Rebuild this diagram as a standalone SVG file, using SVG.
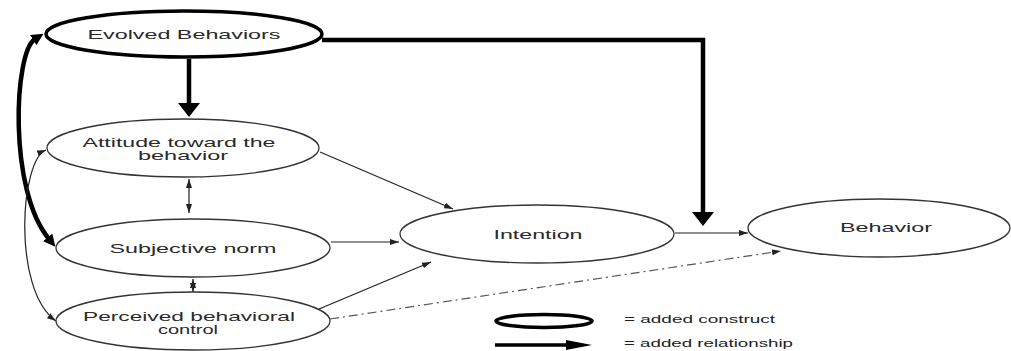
<svg xmlns="http://www.w3.org/2000/svg" width="1011" height="351" viewBox="0 0 1011 351">
<style>
.node{fill:#fff;stroke:#333;stroke-width:1.3}
.added{fill:#fff;stroke:#000;stroke-width:3.5}
.lbl{font-family:"Liberation Sans",Arial,sans-serif;font-size:13px;fill:#2a2a2a;text-anchor:middle}
.leg{font-family:"Liberation Sans",Arial,sans-serif;font-size:10px;fill:#222}
.thin{fill:none;stroke:#222;stroke-width:1.2}
.thick{fill:none;stroke:#000;stroke-width:4.5}
.dash{fill:none;stroke:#555;stroke-width:1.2;stroke-dasharray:9,4,2,4}
</style>
<defs>
<marker id="ah" markerUnits="userSpaceOnUse" markerWidth="9" markerHeight="6" refX="9" refY="3" orient="auto-start-reverse"><path d="M0,0 L9,3 L0,6 z" fill="#222"/></marker>
<marker id="ahT" markerUnits="userSpaceOnUse" markerWidth="14" markerHeight="22" refX="2" refY="11" orient="auto"><path d="M0,0 L14,11 L0,22 z" fill="#000"/></marker>
<marker id="ahC" markerUnits="userSpaceOnUse" markerWidth="12" markerHeight="12" refX="2" refY="6" orient="auto-start-reverse"><path d="M0,0 L12,6 L0,12 z" fill="#000"/></marker>
<marker id="ahL" markerUnits="userSpaceOnUse" markerWidth="26" markerHeight="10" refX="2" refY="5" orient="auto"><path d="M0,0 L26,5 L0,10 z" fill="#000"/></marker>
</defs>

<g id="connectors">
<line class="thick" x1="189" y1="59" x2="189" y2="105" marker-end="url(#ahT)"/>
<path class="thick" d="M322,40 H703 V214" stroke-width="4" marker-end="url(#ahT)"/>
<path class="thick" d="M35,39 C14,52 8,190 49,239" stroke-width="4.5" marker-start="url(#ahC)" marker-end="url(#ahC)"/>
<path class="thin" d="M46,150 C20,160 12,290 56,321" marker-start="url(#ah)" marker-end="url(#ah)"/>
<line class="thin" x1="189" y1="179" x2="189" y2="213" marker-start="url(#ah)" marker-end="url(#ah)"/>
<line class="thin" x1="193" y1="279" x2="193" y2="292" marker-start="url(#ah)" marker-end="url(#ah)"/>
<line class="thin" x1="320" y1="152" x2="453" y2="209" marker-end="url(#ah)"/>
<line class="thin" x1="331" y1="242" x2="399" y2="242" marker-end="url(#ah)"/>
<line class="thin" x1="319" y1="309" x2="431" y2="262" marker-end="url(#ah)"/>
<line class="thin" x1="675" y1="233" x2="748" y2="233" marker-end="url(#ah)"/>
<line class="dash" x1="330" y1="319" x2="781" y2="251" marker-end="url(#ah)"/>
</g>

<g id="evolved">
<ellipse class="added" cx="184" cy="34" rx="138" ry="23"/>
<text class="lbl" x="184" y="38.5" textLength="193" lengthAdjust="spacingAndGlyphs">Evolved Behaviors</text>
</g>
<g id="attitude">
<ellipse class="node" cx="183" cy="148" rx="136" ry="29"/>
<text class="lbl" x="179" y="146.5" textLength="193" lengthAdjust="spacingAndGlyphs">Attitude toward the</text>
<text class="lbl" x="183" y="159.5" textLength="90" lengthAdjust="spacingAndGlyphs">behavior</text>
</g>
<g id="subjective">
<ellipse class="node" cx="193" cy="248" rx="137" ry="29"/>
<text class="lbl" x="193" y="252.5" textLength="167" lengthAdjust="spacingAndGlyphs">Subjective norm</text>
</g>
<g id="perceived">
<ellipse class="node" cx="193" cy="321" rx="137" ry="29"/>
<text class="lbl" x="189" y="320.5" textLength="212" lengthAdjust="spacingAndGlyphs">Perceived behavioral</text>
<text class="lbl" x="188" y="333.5" textLength="60" lengthAdjust="spacingAndGlyphs">control</text>
</g>
<g id="intention">
<ellipse class="node" cx="537" cy="234" rx="137" ry="29"/>
<text class="lbl" x="538" y="238.5" textLength="89" lengthAdjust="spacingAndGlyphs">Intention</text>
</g>
<g id="behavior">
<ellipse class="node" cx="879" cy="228" rx="131" ry="29"/>
<text class="lbl" x="886" y="232" textLength="92" lengthAdjust="spacingAndGlyphs">Behavior</text>
</g>

<g id="legend">
<ellipse class="added" cx="544" cy="321" rx="48" ry="6.5" stroke-width="4"/>
<text class="leg" x="624" y="323" textLength="151" lengthAdjust="spacingAndGlyphs">= added construct</text>
<line x1="495" y1="345" x2="568" y2="345" stroke="#000" stroke-width="3.5" marker-end="url(#ahL)"/>
<text class="leg" x="624" y="347" textLength="169" lengthAdjust="spacingAndGlyphs">= added relationship</text>
</g>
</svg>
